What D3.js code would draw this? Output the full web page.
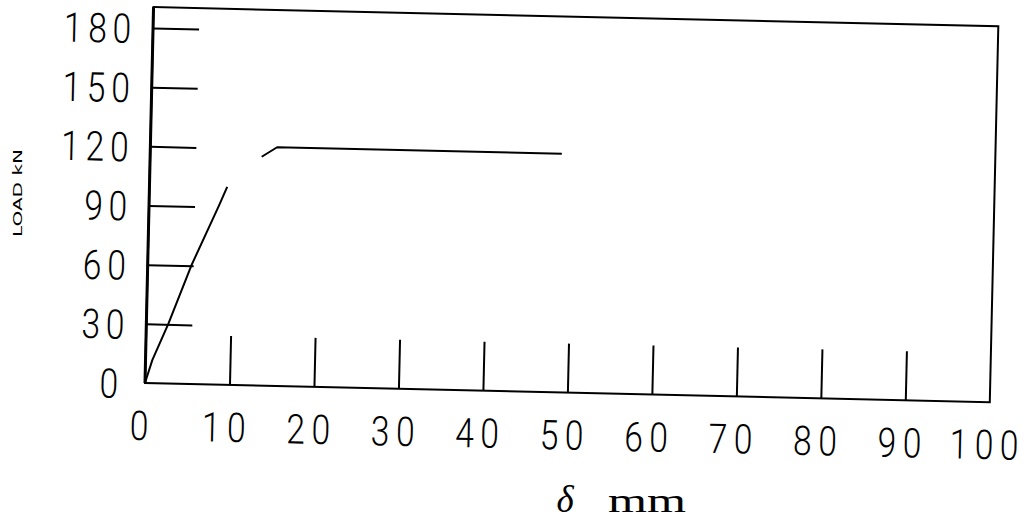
<!DOCTYPE html>
<html>
<head>
<meta charset="utf-8">
<script src="https://cdn.jsdelivr.net/npm/d3@7"></script>
<style>
  html, body { margin: 0; padding: 0; background: #fff; }
  svg { display: block; }
  .num { font-family: Roboto, "DejaVu Sans", sans-serif; font-weight: 300; font-size: 41px; }
</style>
</head>
<body>
<svg id="chart" width="1028" height="525"></svg>
<script>
// Load–deflection record (δ in mm, load in kN)
const elasticDelta = [0, 0.8, 2.6, 5.2, 8.3, 9.2];
const elasticLoad  = [0, 11.7, 30.2, 60.4, 91, 100.3];
const plateauDelta = [13.2, 15, 48.7];
const plateauLoad  = [116, 121, 121];

const xTickValues = [0, 10, 20, 30, 40, 50, 60, 70, 80, 90, 100];
const yTickValues = [0, 30, 60, 90, 120, 150, 180];
const xTickMarks  = [10, 20, 30, 40, 50, 60, 70, 80, 90];
const yTickMarks  = [30, 60, 90, 120, 150, 180];

const xTitleSymbol = "δ";
const xTitleUnit = "mm";
const yTitle = "LOAD kN";

const W = 845, H = 376;
const xMax = 100, yMax = 190.6;
const glyphScale = 0.82;

const svg = d3.select("#chart");
svg.append("rect").attr("width", 1028).attr("height", 525).attr("fill", "#fff");

// plot frame is slightly tilted on the sheet
const g = svg.append("g").attr("transform", "translate(145,383) rotate(1.3)");

const x = d3.scaleLinear().domain([0, xMax]).range([0, W]);
const y = d3.scaleLinear().domain([0, yMax]).range([0, -H]);

// frame
g.append("rect")
  .attr("x", 0).attr("y", -H).attr("width", W).attr("height", H)
  .attr("fill", "none").attr("stroke", "#000").attr("stroke-width", 2);
g.append("line")
  .attr("x1", 0).attr("y1", 0).attr("x2", 0).attr("y2", -H)
  .attr("stroke", "#000").attr("stroke-width", 3);

// bottom axis: ticks point up into the plot
const xAxis = d3.axisBottom(x).tickValues(xTickValues).tickSize(-49).tickPadding(0).tickFormat(d3.format("d"));
const gx = g.append("g").call(xAxis);
gx.select(".domain").remove();
gx.selectAll(".tick line")
  .attr("stroke", "#000").attr("stroke-width", 2)
  .style("display", d => xTickMarks.includes(d) ? null : "none");
gx.selectAll(".tick text")
  .attr("class", "num")
  .attr("fill", "#000")
  .attr("text-anchor", "middle")
  .attr("y", null).attr("dy", null)
  .attr("transform", `translate(-2,57) scale(${glyphScale},1)`)
  .attr("x", 0)
  .style("letter-spacing", "8px");

// left axis: ticks point right into the plot
const yAxis = d3.axisLeft(y).tickValues(yTickValues).tickSize(-46).tickPadding(0).tickFormat(d3.format("d"));
const gy = g.append("g").call(yAxis);
gy.select(".domain").remove();
gy.selectAll(".tick line")
  .attr("stroke", "#000").attr("stroke-width", 2)
  .style("display", d => yTickMarks.includes(d) ? null : "none");
gy.selectAll(".tick text")
  .attr("class", "num")
  .attr("fill", "#000")
  .attr("text-anchor", "end")
  .attr("dy", null)
  .attr("x", 0)
  .attr("transform", d => `translate(${d === 0 ? -21 : -16},15) scale(${glyphScale},1)`)
  .style("letter-spacing", "7px");

// curve
const line = d3.line().x(d => x(d[0])).y(d => y(d[1]));
const segments = [
  d3.zip(elasticDelta, elasticLoad),
  d3.zip(plateauDelta, plateauLoad)
];
g.selectAll("path.curve").data(segments).join("path")
  .attr("class", "curve")
  .attr("d", line)
  .attr("fill", "none").attr("stroke", "#000").attr("stroke-width", 2)
  .attr("stroke-linejoin", "round");

// axis titles
svg.append("text")
  .attr("x", 565).attr("y", 512)
  .attr("text-anchor", "middle")
  .attr("font-family", "'Liberation Serif', 'DejaVu Serif', serif")
  .attr("font-style", "italic")
  .attr("font-size", 37)
  .text(xTitleSymbol);
svg.append("text")
  .attr("x", 608).attr("y", 512)
  .attr("font-family", "'Liberation Serif', 'DejaVu Serif', serif")
  .attr("font-size", 34)
  .attr("textLength", 78).attr("lengthAdjust", "spacingAndGlyphs")
  .text(xTitleUnit);

svg.append("text")
  .attr("transform", "translate(22,193) rotate(-90)")
  .attr("text-anchor", "middle")
  .attr("font-family", "'DejaVu Sans', sans-serif")
  .attr("font-size", 13)
  .attr("textLength", 88).attr("lengthAdjust", "spacingAndGlyphs")
  .text(yTitle);
</script>
</body>
</html>
